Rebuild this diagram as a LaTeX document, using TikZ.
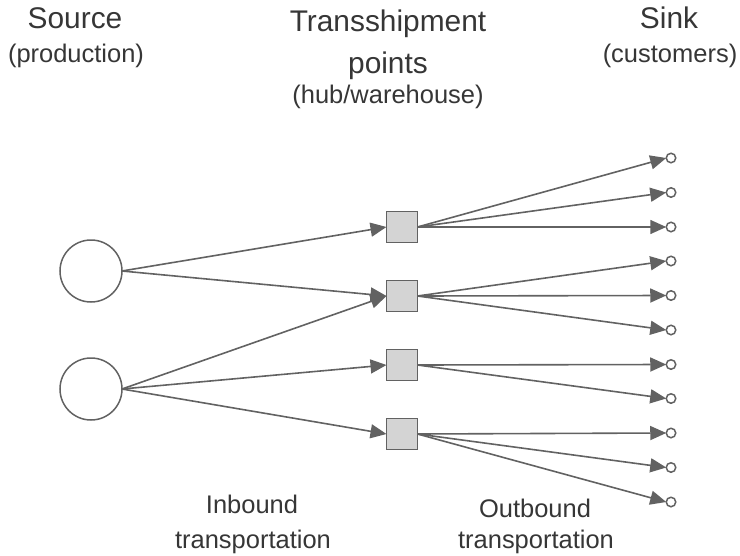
\documentclass[tikz,border=0pt]{standalone}
\usepackage{fontspec}
\setmainfont{Liberation Sans}
\usetikzlibrary{arrows.meta}
\definecolor{linegray}{HTML}{626262}
\definecolor{boxgray}{HTML}{D4D4D4}
\definecolor{textgray}{HTML}{363636}

\begin{document}
\begin{tikzpicture}
\tikzset{ >={Triangle[length=3.2mm,width=2.8mm]}, inner sep=0pt, outer sep=0pt,
  head/.style={text=textgray, font=\fontsize{17}{20}\selectfont, anchor=base},
  sub/.style={text=textgray, font=\fontsize{14.5}{17}\selectfont, anchor=base},
  source/.style={draw=linegray, line width=0.3mm, circle, minimum size=12.4mm},
  hub/.style={draw=linegray, fill=boxgray, line width=0.3mm, minimum size=6.2mm},
  sink/.style={draw=linegray, line width=0.3mm, circle, minimum size=1.9mm},
  flow/.style={->, draw=linegray, line width=0.32mm},
}
\useasboundingbox (0,0) rectangle (14.8,11.1);

%\draw [lightgray, dashed](0,0) grid (15,11);

\node [head] (Ts) at (1.50,10.52) {Source};
\node [sub]  (Tp) at (1.52,9.86) {(production)};
\node [head] (Tt) at (7.76,10.48) {Transshipment};
\node [head] (Tq) at (7.76,9.64) {points};
\node [sub]  (Th) at (7.76,9.04) {(hub/warehouse)};
\node [head] (Tk) at (13.38,10.52) {Sink};
\node [sub]  (Tc) at (13.40,9.86) {(customers)};

\node [sub] (Bi) at (5.04,0.84) {Inbound};
\node [sub] (Bt) at (5.06,0.14) {transportation};
\node [sub] (Bo) at (10.70,0.76) {Outbound};
\node [sub] (Bu) at (10.72,0.14) {transportation};

\node [source] (P1) at (1.82,5.68) {};
\node [source] (P2) at (1.82,3.32) {};

\node [hub] (H1) at (8.04,6.56) {};
\node [hub] (H2) at (8.04,5.18) {};
\node [hub] (H3) at (8.04,3.80) {};
\node [hub] (H4) at (8.04,2.42) {};

\node [sink] (C1)  at (13.42,7.94) {};
\node [sink] (C2)  at (13.42,7.25) {};
\node [sink] (C3)  at (13.42,6.56) {};
\node [sink] (C4)  at (13.42,5.88) {};
\node [sink] (C5)  at (13.42,5.19) {};
\node [sink] (C6)  at (13.42,4.50) {};
\node [sink] (C7)  at (13.42,3.81) {};
\node [sink] (C8)  at (13.42,3.13) {};
\node [sink] (C9)  at (13.42,2.44) {};
\node [sink] (C10) at (13.42,1.75) {};
\node [sink] (C11) at (13.42,1.06) {};

\draw [flow] (P1.east) -- (H1.west);
\draw [flow] (P1.east) -- (H2.west);
\draw [flow] (P2.east) -- (H2.west);
\draw [flow] (P2.east) -- (H3.west);
\draw [flow] (P2.east) -- (H4.west);

\draw [flow] (H1.east) -- (C1.west);
\draw [flow] (H1.east) -- (C2.west);
\draw [flow] (H1.east) -- (C3.west);
\draw [flow] (H2.east) -- (C4.west);
\draw [flow] (H2.east) -- (C5.west);
\draw [flow] (H2.east) -- (C6.west);
\draw [flow] (H3.east) -- (C7.west);
\draw [flow] (H3.east) -- (C8.west);
\draw [flow] (H4.east) -- (C9.west);
\draw [flow] (H4.east) -- (C10.west);
\draw [flow] (H4.east) -- (C11.west);

\end{tikzpicture}
\end{document}
